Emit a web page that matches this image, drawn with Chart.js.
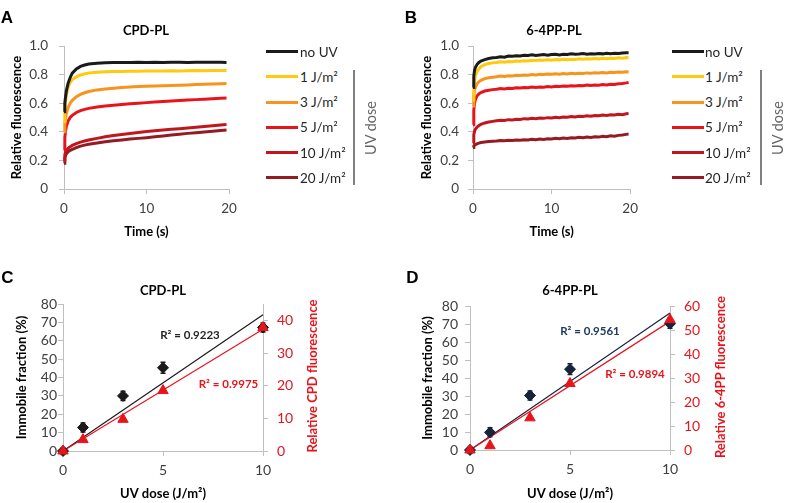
<!DOCTYPE html>
<html><head><meta charset="utf-8">
<script src="https://cdn.jsdelivr.net/npm/chart.js@4.4.1/dist/chart.umd.min.js"></script>
<style>
body{margin:0;background:#fff;width:787px;height:503px;position:relative;overflow:hidden;font-family:Lato,sans-serif;color:#262626}
canvas{position:absolute}
.t{position:absolute;white-space:nowrap;transform:translate(-50%,-50%)}
.v{position:absolute;white-space:nowrap;transform:translate(-50%,-50%) rotate(-90deg)}
.letter{font-family:"Liberation Sans",Arial,sans-serif;font-weight:bold;font-size:17px;color:#000}
.ttl{font-weight:bold;font-size:13px;color:#000}
.lg{position:absolute;white-space:nowrap;transform:translateY(-50%);font-size:13.5px;color:#262626}
.r2{font-weight:bold;font-size:11.5px}
</style></head><body>
<canvas id="cA" width="250" height="250" style="left:0;top:0"></canvas>
<canvas id="cB" width="250" height="250" style="left:395px;top:0"></canvas>
<canvas id="cC" width="400" height="248" style="left:0;top:255px"></canvas>
<canvas id="cD" width="387" height="248" style="left:400px;top:255px"></canvas>
<div id="over"></div>
<script>
// ---------- DATA ----------
const doseLabels = ['no UV','1 J/m²','3 J/m²','5 J/m²','10 J/m²','20 J/m²'];
const curveColors = ['#1a1a1a','#ffc90e','#f7941d','#e8141c','#c2161f','#951b22'];

// Panel A (CPD-PL) time course
const timeA = [0,0.1,0.2,0.3,0.5,0.75,1,1.5,2,2.5,3,4,5,6,7,8,9,10,11,12,13,14,15,16,17,18,19,19.7];
const cpdNoUV = [0.54,0.6,0.65,0.69,0.74,0.78,0.81,0.84,0.857,0.867,0.874,0.88,0.883,0.884,0.885,0.884,0.886,0.885,0.886,0.885,0.886,0.886,0.885,0.886,0.887,0.886,0.886,0.885];
const cpd1J = [0.47,0.56,0.62,0.66,0.71,0.745,0.765,0.785,0.797,0.805,0.811,0.817,0.82,0.822,0.822,0.824,0.824,0.825,0.826,0.826,0.827,0.826,0.827,0.828,0.827,0.828,0.829,0.828];
const cpd3J = [0.4,0.46,0.5,0.53,0.57,0.6,0.62,0.645,0.662,0.673,0.682,0.693,0.7,0.705,0.709,0.713,0.716,0.718,0.72,0.722,0.724,0.726,0.728,0.73,0.732,0.734,0.736,0.738];
const cpd5J = [0.27,0.36,0.41,0.44,0.475,0.5,0.515,0.535,0.548,0.557,0.564,0.573,0.58,0.586,0.591,0.596,0.6,0.604,0.608,0.612,0.616,0.619,0.622,0.625,0.628,0.631,0.634,0.636];
const cpd10J = [0.2,0.24,0.26,0.272,0.285,0.296,0.305,0.318,0.328,0.336,0.343,0.354,0.366,0.374,0.381,0.388,0.395,0.402,0.407,0.412,0.417,0.422,0.427,0.432,0.437,0.442,0.447,0.451];
const cpd20J = [0.18,0.215,0.235,0.247,0.26,0.27,0.277,0.29,0.3,0.307,0.313,0.322,0.33,0.337,0.343,0.349,0.354,0.359,0.365,0.371,0.377,0.383,0.389,0.394,0.399,0.404,0.409,0.413];

// Panel B (6-4PP-PL) time course
const timeB = [0,0.1,0.2,0.3,0.5,0.75,1,1.5,2,2.5,3,3.5,4,4.5,5,5.5,6,6.5,7,7.5,8,8.5,9,9.5,10,10.5,11,11.5,12,12.5,13,13.5,14,14.5,15,15.5,16,16.5,17,17.5,18,18.5,19,19.5,19.8];
const ppNoUV = [0.71,0.79,0.83,0.85,0.87,0.885,0.895,0.905,0.912,0.918,0.92,0.925,0.922,0.93,0.928,0.932,0.93,0.935,0.933,0.938,0.934,0.937,0.94,0.936,0.94,0.943,0.938,0.942,0.94,0.945,0.942,0.944,0.947,0.942,0.946,0.944,0.948,0.945,0.949,0.946,0.95,0.947,0.951,0.953,0.952];
const pp1J = [0.62,0.7,0.76,0.79,0.82,0.84,0.855,0.87,0.877,0.882,0.885,0.889,0.887,0.892,0.89,0.895,0.893,0.897,0.895,0.9,0.898,0.902,0.9,0.904,0.901,0.905,0.903,0.907,0.904,0.908,0.906,0.91,0.907,0.911,0.909,0.912,0.91,0.914,0.911,0.915,0.913,0.917,0.915,0.92,0.918];
const pp3J = [0.58,0.65,0.69,0.71,0.735,0.75,0.76,0.772,0.778,0.782,0.785,0.79,0.787,0.792,0.79,0.795,0.793,0.797,0.795,0.8,0.798,0.802,0.8,0.804,0.802,0.806,0.803,0.807,0.805,0.809,0.806,0.81,0.808,0.812,0.81,0.813,0.811,0.815,0.812,0.816,0.814,0.818,0.816,0.82,0.818];
const pp5J = [0.45,0.55,0.6,0.625,0.65,0.665,0.675,0.685,0.69,0.695,0.698,0.702,0.7,0.705,0.703,0.708,0.706,0.71,0.708,0.713,0.71,0.714,0.712,0.716,0.714,0.718,0.716,0.72,0.718,0.722,0.72,0.724,0.722,0.727,0.724,0.728,0.726,0.731,0.728,0.733,0.731,0.736,0.738,0.742,0.745];
const pp10J = [0.32,0.38,0.405,0.418,0.432,0.444,0.452,0.462,0.468,0.473,0.477,0.481,0.479,0.485,0.483,0.488,0.486,0.492,0.489,0.494,0.492,0.497,0.494,0.499,0.497,0.502,0.499,0.504,0.502,0.507,0.504,0.509,0.507,0.512,0.509,0.514,0.512,0.517,0.514,0.519,0.517,0.522,0.52,0.526,0.528];
const pp20J = [0.29,0.3,0.305,0.31,0.316,0.321,0.325,0.329,0.332,0.334,0.336,0.339,0.337,0.341,0.339,0.343,0.341,0.345,0.343,0.347,0.345,0.349,0.347,0.351,0.35,0.354,0.352,0.356,0.354,0.359,0.356,0.361,0.358,0.363,0.361,0.366,0.363,0.369,0.366,0.372,0.369,0.375,0.378,0.382,0.384];

// Panels C and D
const doses = [0,1,3,5,10];
const cpdImmobile = [0,12.8,30,45.3,67.2];
const cpdImmobileErr = [1.5,2.5,2.5,3,2.5];
const cpdFluor = [0,3.5,9.7,18.5,37.8];
const ppImmobile = [0,9.8,30.3,44.9,70.2];
const ppImmobileErr = [1.5,2.5,2.5,3,2.5];
const ppFluor = [0,1.8,13.4,27.7,54.3];
const cpdR2 = ['R² = 0.9223','R² = 0.9975'];
const ppR2 = ['R² = 0.9561','R² = 0.9894'];

// ---------- HELPERS ----------
Chart.defaults.font.family = 'Lato';
const AX = '#bfbfbf', TXT = '#404040', RED = '#e8141c';

function pts(xs, ys){ return xs.map((x,i)=>({x:x, y:ys[i]})); }
function slopeOrigin(xs, ys){ let sxy=0,sxx=0; xs.forEach((x,i)=>{sxy+=x*ys[i]; sxx+=x*x;}); return sxy/sxx; }
function trend(xs, ys){ const s=slopeOrigin(xs,ys); const a=xs[0], b=xs[xs.length-1]; return [{x:a,y:s*a},{x:b,y:s*b}]; }

const errPlugin = {
  id:'errbars',
  beforeDatasetsDraw(chart, args, o){
    if(!o || !o.errors) return;
    const meta = chart.getDatasetMeta(o.datasetIndex);
    const ds = chart.data.datasets[o.datasetIndex];
    const ys = chart.scales.y, ctx = chart.ctx;
    ctx.save(); ctx.strokeStyle = o.color; ctx.lineWidth = 1.5;
    meta.data.forEach((p,i)=>{
      const v = ds.data[i].y, e = o.errors[i];
      const y1 = ys.getPixelForValue(v+e), y2 = ys.getPixelForValue(v-e);
      ctx.beginPath();
      ctx.moveTo(p.x,y1); ctx.lineTo(p.x,y2);
      ctx.moveTo(p.x-2.5,y1); ctx.lineTo(p.x+2.5,y1);
      ctx.moveTo(p.x-2.5,y2); ctx.lineTo(p.x+2.5,y2);
      ctx.stroke();
    });
    ctx.restore();
  }
};
Chart.register(errPlugin);

function axisBase(){
  return {
    grid:{display:true, drawOnChartArea:false, drawTicks:true, tickLength:5, color:AX},
    border:{display:true, color:AX, width:1},
  };
}

function timeChart(id, times, series, o){
  const datasets = series.map((s,i)=>({
    data: pts(times, s), borderColor: curveColors[i], backgroundColor: curveColors[i],
    borderWidth: 3, pointRadius: 0, showLine: true, tension: 0, clip: false
  }));
  new Chart(document.getElementById(id), {
    type:'scatter',
    data:{datasets},
    options:{
      responsive:false, animation:false, devicePixelRatio:1,
      layout:{padding:{left:0, top:46, right:o.right, bottom:0}},
      plugins:{legend:{display:false}, tooltip:{enabled:false}},
      scales:{
        x:Object.assign(axisBase(), {
          type:'linear', min:0, max:20,
          ticks:{stepSize:10, autoSkip:false, color:TXT, font:{size:13.5}, padding:7},
          title:{display:true, text:'Time (s)', color:'#000', font:{size:13, weight:'bold'}, padding:{top:0,bottom:10}},
          afterFit:(s)=>{ s.height = 61; }
        }),
        y:Object.assign(axisBase(), {
          min:0, max:1,
          ticks:{stepSize:0.2, autoSkip:false, color:TXT, font:{size:13.5}, padding:o.ypad},
          title:{display:true, text:'Relative fluorescence', color:'#000', font:{size:13, weight:'bold'}, padding:{top:o.ytitle, bottom:0}},
          afterFit:(s)=>{ s.width = o.left; }
        })
      }
    }
  });
}

timeChart('cA', timeA, [cpdNoUV,cpd1J,cpd3J,cpd5J,cpd10J,cpd20J], {left:64, right:21, ypad:11, ytitle:9});
timeChart('cB', timeB, [ppNoUV,pp1J,pp3J,pp5J,pp10J,pp20J], {left:78, right:10, ypad:9, ytitle:24});

function doseChart(id, immob, err, fluor, mk, o){
  new Chart(document.getElementById(id), {
    type:'scatter',
    data:{datasets:[
      {data:pts(doses, fluor), yAxisID:'y2', pointStyle:'triangle', pointRadius:6, backgroundColor:RED, borderColor:RED, borderWidth:1, clip:false},
      {data:pts(doses, immob), yAxisID:'y', pointStyle:'rectRot', pointRadius:5.5, backgroundColor:mk, borderColor:mk, borderWidth:1, clip:false},
      {data:trend(doses, fluor), yAxisID:'y2', showLine:true, pointRadius:0, borderColor:RED, borderWidth:1.2, clip:false},
      {data:trend(doses, immob), yAxisID:'y', showLine:true, pointRadius:0, borderColor:mk, borderWidth:1.2, clip:false}
    ]},
    options:{
      responsive:false, animation:false, devicePixelRatio:1,
      layout:{padding:{left:0, top:o.top, right:0, bottom:0}},
      plugins:{legend:{display:false}, tooltip:{enabled:false}, errbars:{datasetIndex:1, errors:err, color:mk}},
      scales:{
        x:Object.assign(axisBase(), {
          type:'linear', min:0, max:10,
          ticks:{stepSize:5, autoSkip:false, color:TXT, font:{size:14}, padding:6},
          title:{display:true, text:'UV dose (J/m²)', color:'#000', font:{size:13, weight:'bold'}, padding:{top:0,bottom:1}},
          afterFit:(s)=>{ s.height = o.xh; }
        }),
        y:Object.assign(axisBase(), {
          position:'left', min:0, max:80,
          ticks:{stepSize:10, autoSkip:false, color:TXT, font:{size:14}, padding:o.ypad},
          title:{display:true, text:'Immobile fraction (%)', color:'#000', font:{size:13, weight:'bold'}, padding:{top:o.ytitle, bottom:0}},
          afterFit:(s)=>{ s.width = o.left; }
        }),
        y2:Object.assign(axisBase(), {
          position:'right', min:0, max:o.y2max,
          ticks:{stepSize:10, autoSkip:false, color:RED, font:{size:14}, padding:9, includeBounds:false},
          afterFit:(s)=>{ s.width = o.rightW; }
        })
      }
    }
  });
}

doseChart('cC', cpdImmobile, cpdImmobileErr, cpdFluor, '#1a1a1a', {top:49, xh:52, left:63, rightW:137, ypad:1, ytitle:14.5, y2max:45});
doseChart('cD', ppImmobile, ppImmobileErr, ppFluor, '#17223b', {top:51, xh:53, left:70, rightW:117, ypad:7, ytitle:20, y2max:60});

// ---------- TEXT OVERLAYS ----------
const over = document.getElementById('over');
function txt(cls, text, x, y, style){ const d=document.createElement('div'); d.className=cls; d.textContent=text; d.style.left=x+'px'; d.style.top=y+'px'; if(style) d.style.cssText+=style; over.appendChild(d); return d; }
txt('t letter','A',7,17.5); txt('t letter','B',411,17.5); txt('t letter','C',7.5,277.5); txt('t letter','D',412.5,277.5);
txt('t ttl','CPD-PL',146,30); txt('t ttl','6-4PP-PL',554,30);
txt('t ttl','CPD-PL',163,290); txt('t ttl','6-4PP-PL',570,290);
txt('v ttl','Relative CPD fluorescence',311.5,376,'color:'+RED);
txt('v ttl','Relative 6-4PP fluorescence',720,377,'color:'+RED);
txt('t r2',cpdR2[0],190,333.5,'color:#262626'); txt('t r2',cpdR2[1],228.5,382.5,'color:'+RED);
txt('t r2',ppR2[0],590,330,'color:#1f3864'); txt('t r2',ppR2[1],635,373,'color:'+RED);

function legend(lx, tx, barX, labX){
  doseLabels.forEach((lab,i)=>{
    const y = 51.7 + i*25.2;
    const l = document.createElement('div');
    l.style.cssText = `position:absolute;left:${lx}px;top:${y-1.5}px;width:32px;height:3px;background:${curveColors[i]}`;
    over.appendChild(l);
    txt('lg', lab, tx, y);
  });
  const b = document.createElement('div');
  b.style.cssText = `position:absolute;left:${barX}px;top:70px;width:2px;height:115px;background:#808080`;
  over.appendChild(b);
  txt('v','UV dose',labX,127.5,'font-size:14.5px;color:#666');
}
legend(266, 300, 353, 370);
legend(672, 705, 760, 777);
</script>
</body></html>
